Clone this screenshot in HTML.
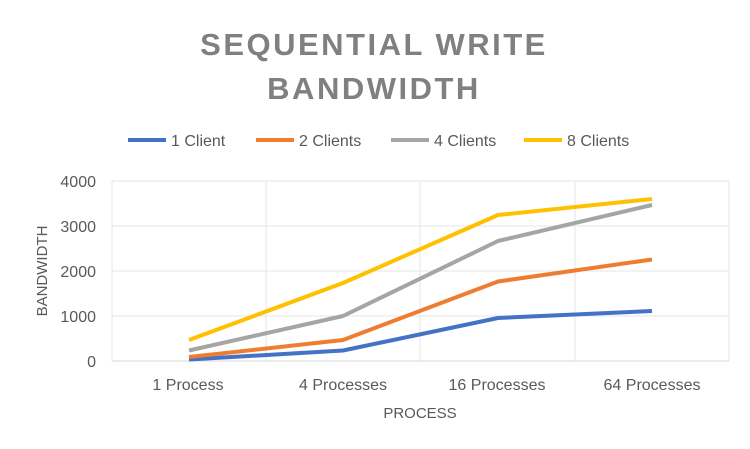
<!DOCTYPE html>
<html><head><meta charset="utf-8"><style>
html,body{margin:0;padding:0;background:#fff;}
svg{display:block;font-family:"Liberation Sans",sans-serif;}
</style></head><body>
<svg width="750" height="449" viewBox="0 0 750 449" xmlns="http://www.w3.org/2000/svg">
<rect width="750" height="449" fill="#fff"/>
<text x="374" y="55" text-anchor="middle" font-size="31" font-weight="bold" fill="#808080" letter-spacing="2.5">SEQUENTIAL WRITE</text>
<text x="374" y="99" text-anchor="middle" font-size="31" font-weight="bold" fill="#808080" letter-spacing="2.5">BANDWIDTH</text>
<g font-size="16" fill="#595959">
<line x1="128" y1="140" x2="166" y2="140" stroke="#4472C4" stroke-width="4"/><text x="171" y="146">1 Client</text>
<line x1="256" y1="140" x2="294" y2="140" stroke="#ED7D31" stroke-width="4"/><text x="299" y="146">2 Clients</text>
<line x1="391" y1="140" x2="429" y2="140" stroke="#A5A5A5" stroke-width="4"/><text x="434" y="146">4 Clients</text>
<line x1="524" y1="140" x2="562" y2="140" stroke="#FFC000" stroke-width="4"/><text x="567" y="146">8 Clients</text>
</g>
<g stroke="#e6e6e6" stroke-width="1">
<line x1="112" y1="181" x2="729" y2="181"/><line x1="112" y1="226" x2="729" y2="226"/>
<line x1="112" y1="271" x2="729" y2="271"/><line x1="112" y1="316" x2="729" y2="316"/>
<line x1="112" y1="181" x2="112" y2="361"/><line x1="266" y1="181" x2="266" y2="361"/>
<line x1="420" y1="181" x2="420" y2="361"/><line x1="575" y1="181" x2="575" y2="361"/>
<line x1="729" y1="181" x2="729" y2="361"/>
</g>
<line x1="112" y1="361" x2="729" y2="361" stroke="#d9d9d9" stroke-width="1"/>
<g font-size="16" fill="#595959" text-anchor="end">
<text x="96" y="187">4000</text><text x="96" y="232">3000</text><text x="96" y="277">2000</text><text x="96" y="322">1000</text><text x="96" y="367">0</text>
</g>
<text transform="translate(47,271) rotate(-90)" text-anchor="middle" font-size="15" fill="#595959">BANDWIDTH</text>
<g font-size="16" fill="#595959" text-anchor="middle">
<text x="188" y="390">1 Process</text><text x="343" y="390">4 Processes</text><text x="497" y="390">16 Processes</text><text x="652" y="390">64 Processes</text>
</g>
<text x="420" y="418" text-anchor="middle" font-size="15" fill="#595959">PROCESS</text>
<g fill="none" stroke-width="4" stroke-linejoin="round">
<polyline stroke="#4472C4" points="189,359.5 343,350.5 498,318 652,311"/>
<polyline stroke="#ED7D31" points="189,357 343,340 498,281.5 652,259.5"/>
<polyline stroke="#A5A5A5" points="189,350.5 343,316 498,241 652,205"/>
<polyline stroke="#FFC000" points="189,340 343,283 498,215 652,199"/>
</g>
</svg>
</body></html>
